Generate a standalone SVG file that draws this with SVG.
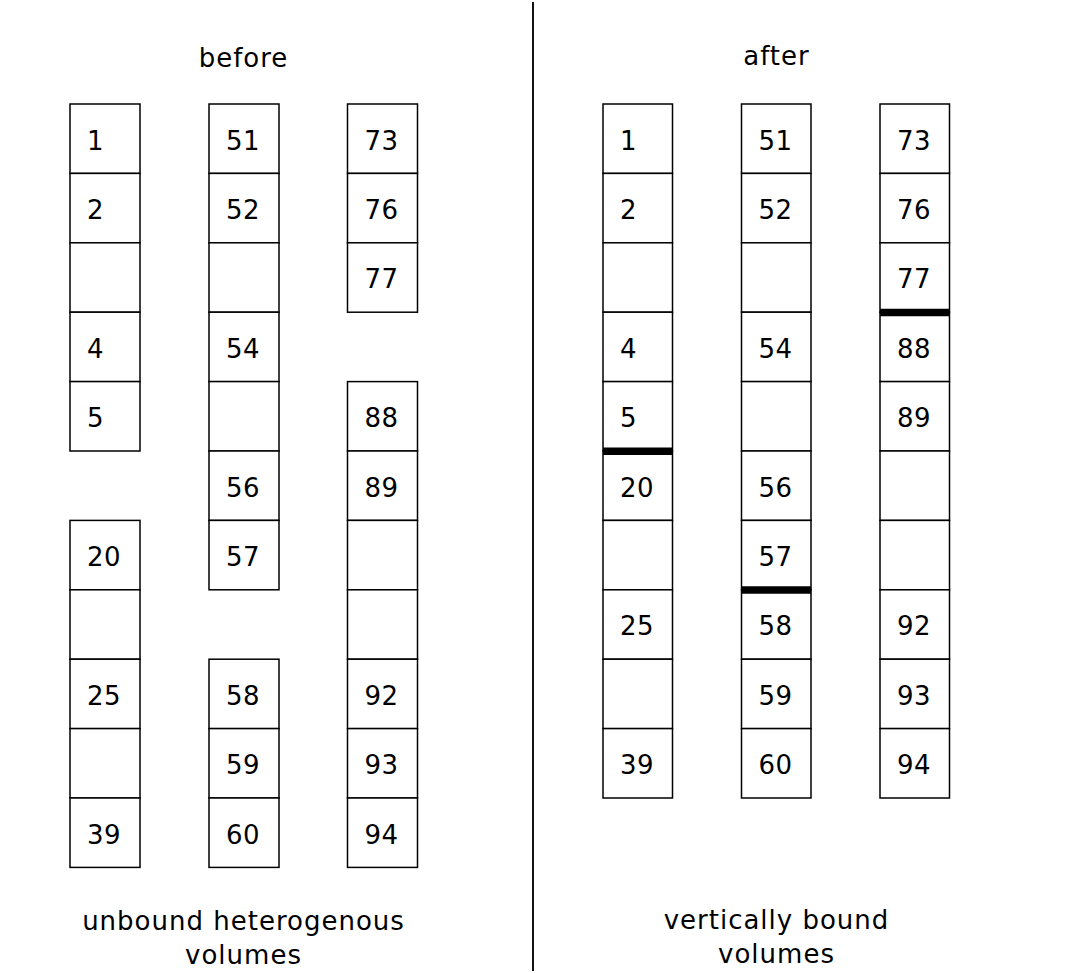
<svg xmlns="http://www.w3.org/2000/svg" width="1067" height="973" viewBox="0 0 1067 973">
<style>
.c{fill:#fff;stroke:#000;stroke-width:1.5}
.t{font-family:"DejaVu Sans",Verdana,sans-serif;font-size:26px;fill:#000;letter-spacing:0.5px}
.h{font-family:"DejaVu Sans",Verdana,sans-serif;font-size:26px;fill:#000;text-anchor:middle;letter-spacing:1px}
.b{stroke:#000;stroke-width:7.5}
</style>
<rect width="1067" height="973" fill="#fff"/>
<g id="divider"><line x1="533" y1="2" x2="533" y2="971" stroke="#111" stroke-width="2"/></g>
<g id="titles">
<text class="h" x="243.5" y="67">before</text>
<text class="h" x="776.5" y="65">after</text>
<text class="h" x="243.5" y="930">unbound heterogenous</text>
<text class="h" x="243.5" y="964">volumes</text>
<text class="h" x="776.5" y="929">vertically bound</text>
<text class="h" x="776.5" y="963">volumes</text>
</g>
<g id="before">
<g id="colA">
<g id="A0"><rect class="c" x="70" y="104" width="70" height="69.4"/><text class="t" x="87" y="149.5">1</text></g>
<g id="A1"><rect class="c" x="70" y="173.4" width="70" height="69.4"/><text class="t" x="87" y="218.9">2</text></g>
<g id="A2"><rect class="c" x="70" y="242.8" width="70" height="69.4"/></g>
<g id="A3"><rect class="c" x="70" y="312.2" width="70" height="69.4"/><text class="t" x="87" y="357.7">4</text></g>
<g id="A4"><rect class="c" x="70" y="381.6" width="70" height="69.4"/><text class="t" x="87" y="427.1">5</text></g>
<g id="A6"><rect class="c" x="70" y="520.4" width="70" height="69.4"/><text class="t" x="87" y="565.9">20</text></g>
<g id="A7"><rect class="c" x="70" y="589.8" width="70" height="69.4"/></g>
<g id="A8"><rect class="c" x="70" y="659.2" width="70" height="69.4"/><text class="t" x="87" y="704.7">25</text></g>
<g id="A9"><rect class="c" x="70" y="728.6" width="70" height="69.4"/></g>
<g id="A10"><rect class="c" x="70" y="798" width="70" height="69.4"/><text class="t" x="87" y="843.5">39</text></g>
</g>
<g id="colB">
<g id="B0"><rect class="c" x="209" y="104" width="70" height="69.4"/><text class="t" x="226" y="149.5">51</text></g>
<g id="B1"><rect class="c" x="209" y="173.4" width="70" height="69.4"/><text class="t" x="226" y="218.9">52</text></g>
<g id="B2"><rect class="c" x="209" y="242.8" width="70" height="69.4"/></g>
<g id="B3"><rect class="c" x="209" y="312.2" width="70" height="69.4"/><text class="t" x="226" y="357.7">54</text></g>
<g id="B4"><rect class="c" x="209" y="381.6" width="70" height="69.4"/></g>
<g id="B5"><rect class="c" x="209" y="451" width="70" height="69.4"/><text class="t" x="226" y="496.5">56</text></g>
<g id="B6"><rect class="c" x="209" y="520.4" width="70" height="69.4"/><text class="t" x="226" y="565.9">57</text></g>
<g id="B8"><rect class="c" x="209" y="659.2" width="70" height="69.4"/><text class="t" x="226" y="704.7">58</text></g>
<g id="B9"><rect class="c" x="209" y="728.6" width="70" height="69.4"/><text class="t" x="226" y="774.1">59</text></g>
<g id="B10"><rect class="c" x="209" y="798" width="70" height="69.4"/><text class="t" x="226" y="843.5">60</text></g>
</g>
<g id="colC">
<g id="C0"><rect class="c" x="347.5" y="104" width="70" height="69.4"/><text class="t" x="364.5" y="149.5">73</text></g>
<g id="C1"><rect class="c" x="347.5" y="173.4" width="70" height="69.4"/><text class="t" x="364.5" y="218.9">76</text></g>
<g id="C2"><rect class="c" x="347.5" y="242.8" width="70" height="69.4"/><text class="t" x="364.5" y="288.3">77</text></g>
<g id="C4"><rect class="c" x="347.5" y="381.6" width="70" height="69.4"/><text class="t" x="364.5" y="427.1">88</text></g>
<g id="C5"><rect class="c" x="347.5" y="451" width="70" height="69.4"/><text class="t" x="364.5" y="496.5">89</text></g>
<g id="C6"><rect class="c" x="347.5" y="520.4" width="70" height="69.4"/></g>
<g id="C7"><rect class="c" x="347.5" y="589.8" width="70" height="69.4"/></g>
<g id="C8"><rect class="c" x="347.5" y="659.2" width="70" height="69.4"/><text class="t" x="364.5" y="704.7">92</text></g>
<g id="C9"><rect class="c" x="347.5" y="728.6" width="70" height="69.4"/><text class="t" x="364.5" y="774.1">93</text></g>
<g id="C10"><rect class="c" x="347.5" y="798" width="70" height="69.4"/><text class="t" x="364.5" y="843.5">94</text></g>
</g>
</g>
<g id="after">
<g id="colD">
<g id="D0"><rect class="c" x="603" y="104" width="69.5" height="69.4"/><text class="t" x="620" y="149.5">1</text></g>
<g id="D1"><rect class="c" x="603" y="173.4" width="69.5" height="69.4"/><text class="t" x="620" y="218.9">2</text></g>
<g id="D2"><rect class="c" x="603" y="242.8" width="69.5" height="69.4"/></g>
<g id="D3"><rect class="c" x="603" y="312.2" width="69.5" height="69.4"/><text class="t" x="620" y="357.7">4</text></g>
<g id="D4"><rect class="c" x="603" y="381.6" width="69.5" height="69.4"/><text class="t" x="620" y="427.1">5</text></g>
<g id="D5"><rect class="c" x="603" y="451" width="69.5" height="69.4"/><text class="t" x="620" y="496.5">20</text></g>
<g id="D6"><rect class="c" x="603" y="520.4" width="69.5" height="69.4"/></g>
<g id="D7"><rect class="c" x="603" y="589.8" width="69.5" height="69.4"/><text class="t" x="620" y="635.3">25</text></g>
<g id="D8"><rect class="c" x="603" y="659.2" width="69.5" height="69.4"/></g>
<g id="D9"><rect class="c" x="603" y="728.6" width="69.5" height="69.4"/><text class="t" x="620" y="774.1">39</text></g>
</g>
<g id="colE">
<g id="E0"><rect class="c" x="741.5" y="104" width="69.5" height="69.4"/><text class="t" x="758.5" y="149.5">51</text></g>
<g id="E1"><rect class="c" x="741.5" y="173.4" width="69.5" height="69.4"/><text class="t" x="758.5" y="218.9">52</text></g>
<g id="E2"><rect class="c" x="741.5" y="242.8" width="69.5" height="69.4"/></g>
<g id="E3"><rect class="c" x="741.5" y="312.2" width="69.5" height="69.4"/><text class="t" x="758.5" y="357.7">54</text></g>
<g id="E4"><rect class="c" x="741.5" y="381.6" width="69.5" height="69.4"/></g>
<g id="E5"><rect class="c" x="741.5" y="451" width="69.5" height="69.4"/><text class="t" x="758.5" y="496.5">56</text></g>
<g id="E6"><rect class="c" x="741.5" y="520.4" width="69.5" height="69.4"/><text class="t" x="758.5" y="565.9">57</text></g>
<g id="E7"><rect class="c" x="741.5" y="589.8" width="69.5" height="69.4"/><text class="t" x="758.5" y="635.3">58</text></g>
<g id="E8"><rect class="c" x="741.5" y="659.2" width="69.5" height="69.4"/><text class="t" x="758.5" y="704.7">59</text></g>
<g id="E9"><rect class="c" x="741.5" y="728.6" width="69.5" height="69.4"/><text class="t" x="758.5" y="774.1">60</text></g>
</g>
<g id="colF">
<g id="F0"><rect class="c" x="880" y="104" width="69.5" height="69.4"/><text class="t" x="897" y="149.5">73</text></g>
<g id="F1"><rect class="c" x="880" y="173.4" width="69.5" height="69.4"/><text class="t" x="897" y="218.9">76</text></g>
<g id="F2"><rect class="c" x="880" y="242.8" width="69.5" height="69.4"/><text class="t" x="897" y="288.3">77</text></g>
<g id="F3"><rect class="c" x="880" y="312.2" width="69.5" height="69.4"/><text class="t" x="897" y="357.7">88</text></g>
<g id="F4"><rect class="c" x="880" y="381.6" width="69.5" height="69.4"/><text class="t" x="897" y="427.1">89</text></g>
<g id="F5"><rect class="c" x="880" y="451" width="69.5" height="69.4"/></g>
<g id="F6"><rect class="c" x="880" y="520.4" width="69.5" height="69.4"/></g>
<g id="F7"><rect class="c" x="880" y="589.8" width="69.5" height="69.4"/><text class="t" x="897" y="635.3">92</text></g>
<g id="F8"><rect class="c" x="880" y="659.2" width="69.5" height="69.4"/><text class="t" x="897" y="704.7">93</text></g>
<g id="F9"><rect class="c" x="880" y="728.6" width="69.5" height="69.4"/><text class="t" x="897" y="774.1">94</text></g>
</g>
<g id="bindings">
<line class="b" x1="603" y1="451.2" x2="672.5" y2="451.2"/>
<line class="b" x1="741.5" y1="590" x2="811" y2="590"/>
<line class="b" x1="880" y1="312.4" x2="949.5" y2="312.4"/>
</g>
</g>
</svg>
